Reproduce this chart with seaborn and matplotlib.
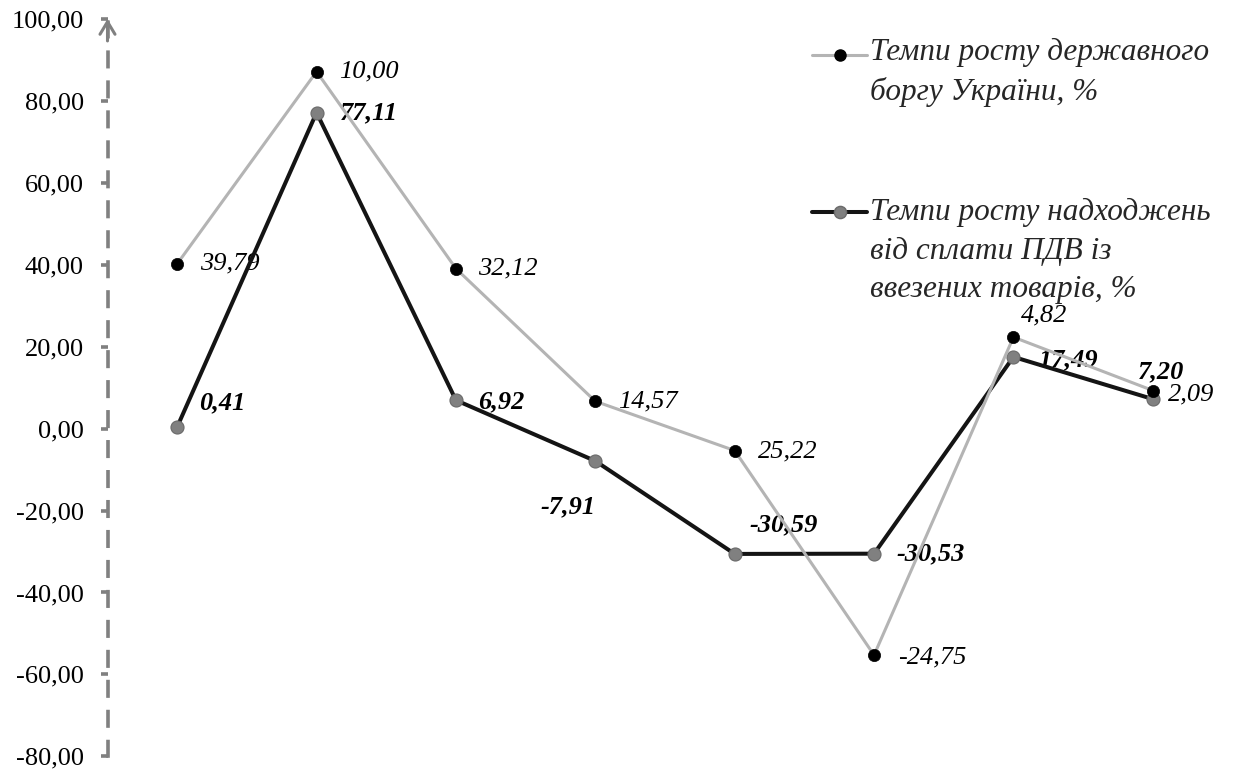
import numpy as np
import pandas as pd
import seaborn as sns
import matplotlib.pyplot as plt
from matplotlib.lines import Line2D

# ---------------- data ----------------
periods = [1, 2, 3, 4, 5, 6, 7, 8]
debt_growth = [39.79, 10.00, 32.12, 14.57, 25.22, -24.75, 4.82, 2.09]
vat_growth = [0.41, 77.11, 6.92, -7.91, -30.59, -30.53, 17.49, 7.20]
debt_name = "Темпи росту державного\nборгу України, %"
vat_name = "Темпи росту надходжень\nвід сплати ПДВ із\nввезених товарів, %"
yticks = [-80, -60, -40, -20, 0, 20, 40, 60, 80, 100]
ytick_labels = ["-80,00", "-60,00", "-40,00", "-20,00", "0,00",
                "20,00", "40,00", "60,00", "80,00", "100,00"]

# stacked line chart (as in the original spreadsheet chart)
df = pd.DataFrame({"period": periods, "debt": debt_growth, "vat": vat_growth})
df["debt_stacked"] = df["vat"] + df["debt"]
df["x"] = np.arange(len(df))

# ---------------- style ----------------
sns.set_theme(style="white")
plt.rcParams["font.family"] = ["Liberation Serif", "DejaVu Serif"]

FS = 19
LFS = 22.5
LIGHT = "#b4b4b4"
DARK = "#141414"
MID = "#808080"

W, H = 1235, 769
fig = plt.figure(figsize=(W / 100, H / 100), dpi=100)
ax = fig.add_axes([107.5 / W, 1 - 756.4 / H, (1222.5 - 107.5) / W, (756.4 - 18.8) / H])

sns.lineplot(data=df, x="x", y="vat", ax=ax, color=DARK, linewidth=2.9,
             marker="o", markersize=9.4, markerfacecolor=MID,
             markeredgecolor="#6a6a6a", markeredgewidth=0.8,
             sort=False, errorbar=None, zorder=3)
sns.lineplot(data=df, x="x", y="debt_stacked", ax=ax, color=LIGHT, linewidth=2.2,
             marker="o", markersize=8.8, markerfacecolor="black",
             markeredgecolor="black", markeredgewidth=0.5,
             sort=False, errorbar=None, zorder=4)

ax.set_xlim(-0.5, len(df) - 0.5)
ax.set_ylim(-80, 100)
ax.set_yticks(yticks)
ax.set_yticklabels(ytick_labels)
ax.set_xticks([])
ax.set_xlabel("")
ax.set_ylabel("")
for s in ["top", "right", "bottom"]:
    ax.spines[s].set_visible(False)
ax.spines["left"].set_color(MID)
ax.spines["left"].set_linewidth(2.6)
ax.spines["left"].set_linestyle((0, (4.0, 4.3)))
ax.tick_params(axis="y", direction="out", length=5, width=2.6, color=MID,
               pad=12, labelsize=FS, labelcolor="black", left=True)
ax.grid(False)

# arrow head on top of the value axis
ax.annotate("", xy=(0, 1.0), xycoords="axes fraction",
            xytext=(0, 0.97), textcoords="axes fraction",
            arrowprops=dict(arrowstyle="->,head_length=0.45,head_width=0.27",
                            color=MID, lw=2.2, shrinkA=0, shrinkB=0,
                            mutation_scale=20), annotation_clip=False)

def fmt(v):
    return f"{v:.2f}".replace(".", ",")

# data-label layout (pixel offsets, alignment)
debt_offsets = [(23, 0, "left"), (23, 0, "left"), (22, 0, "left"), (23, 0, "left"),
                (23, -1, "left"), (24, -2, "left"), (31, 22, "center"), (15, -4, "left")]
vat_offsets = [(22, 24, "left"), (23, 0, "left"), (22, -2, "left"), (0, -46, "right"),
               (15, 29, "left"), (22, 0, "left"), (25, -3, "left"), (8, 27, "center")]

for xi, yv, lab, (dx, dy, ha) in zip(df["x"], df["debt_stacked"], df["debt"], debt_offsets):
    ax.annotate(fmt(lab), xy=(xi, yv), xytext=(dx, dy), textcoords="offset pixels",
                ha=ha, va="center", fontsize=FS, style="italic", color="black",
                zorder=2, annotation_clip=False)
for xi, yv, lab, (dx, dy, ha) in zip(df["x"], df["vat"], df["vat"], vat_offsets):
    ax.annotate(fmt(lab), xy=(xi, yv), xytext=(dx, dy), textcoords="offset pixels",
                ha=ha, va="center", fontsize=FS, style="italic", weight="bold",
                color="black", zorder=2, annotation_clip=False)

# ---------------- legend (drawn as in the original) ----------------
def fx(px):
    return px / W

def fy(py):
    return 1 - py / H

LINE_STEP = 38.5
legend_items = [
    (debt_name, LIGHT, 2.2, "black", "black", 8.0, 55, 61.5),
    (vat_name, DARK, 2.9, MID, "#6a6a6a", 8.8, 212, 220),
]
for name, lc, lw, mfc, mec, ms, ly, base in legend_items:
    fig.add_artist(Line2D([fx(812), fx(867)], [fy(ly), fy(ly)], color=lc, lw=lw,
                          transform=fig.transFigure))
    fig.add_artist(Line2D([fx(839.5)], [fy(ly)], marker="o", markersize=ms,
                          markerfacecolor=mfc, markeredgecolor=mec, color=lc,
                          transform=fig.transFigure))
    n_lines = name.count("\n") + 1
    last_base = base + (n_lines - 1) * LINE_STEP
    fig.text(fx(870), fy(last_base), name, ha="left", va="baseline", fontsize=LFS,
             style="italic", linespacing=1.42)

fig.savefig("out.png", dpi=100)
